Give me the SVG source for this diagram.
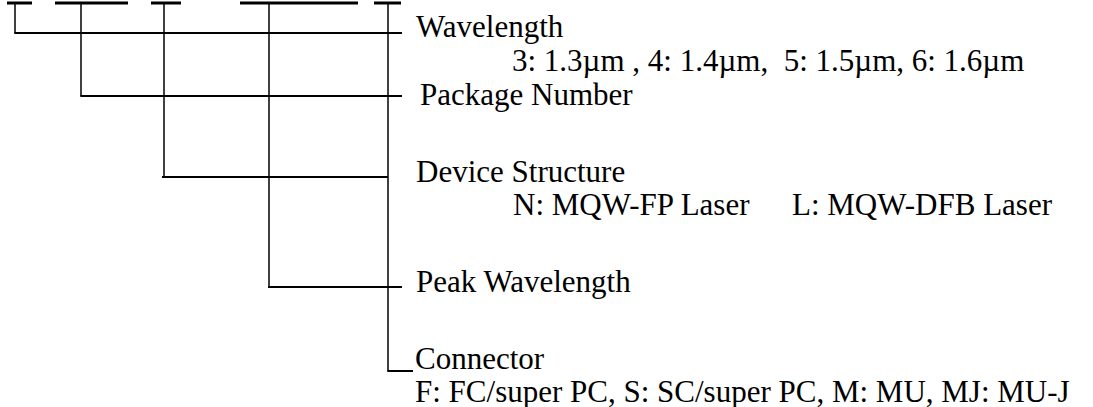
<svg xmlns="http://www.w3.org/2000/svg" width="1093" height="407" viewBox="0 0 1093 407">
<style>
.bar{stroke:#000;stroke-width:3;fill:none}
.v{stroke:#000;stroke-width:1.5;fill:none}
.h{stroke:#000;stroke-width:2;fill:none}
text{font-family:"Liberation Serif","Times New Roman",serif;font-size:31px;fill:#000;white-space:pre}
</style>
<rect width="1093" height="407" fill="#fff"/>
<g id="code-bars">
<line class="bar" x1="7" y1="3" x2="32" y2="3"/>
<line class="bar" x1="55" y1="3" x2="128" y2="3"/>
<line class="bar" x1="151" y1="3" x2="181" y2="3"/>
<line class="bar" x1="240" y1="3" x2="358" y2="3"/>
<line class="bar" x1="374" y1="3" x2="401" y2="3"/>
</g>
<g id="connectors">
<line class="v" x1="15" y1="3" x2="15" y2="33"/>
<line class="v" x1="81" y1="3" x2="81" y2="96"/>
<line class="v" x1="164" y1="3" x2="164" y2="177"/>
<line class="v" x1="269" y1="3" x2="269" y2="287"/>
<line class="v" x1="388" y1="3" x2="388" y2="371"/>
<line class="h" x1="14.3" y1="33" x2="402" y2="33"/>
<line class="h" x1="80.3" y1="96" x2="402" y2="96"/>
<line class="h" x1="162" y1="177" x2="388" y2="177"/>
<line class="h" x1="268" y1="287" x2="402" y2="287"/>
<line class="h" x1="387.3" y1="371" x2="413" y2="371"/>
</g>
<g id="wavelength">
<text x="416" y="37">Wavelength</text>
<text x="512" y="71" xml:space="preserve">3: 1.3µm , 4: 1.4µm,  5: 1.5µm, 6: 1.6µm</text>
</g>
<g id="package-number">
<text x="420" y="105">Package Number</text>
</g>
<g id="device-structure">
<text x="416" y="182">Device Structure</text>
<text x="513" y="215">N: MQW-FP Laser</text>
<text x="792" y="215">L: MQW-DFB Laser</text>
</g>
<g id="peak-wavelength">
<text x="416" y="292">Peak Wavelength</text>
</g>
<g id="connector">
<text x="415" y="369">Connector</text>
<text x="415" y="402">F: FC/super PC, S: SC/super PC, M: MU, MJ: MU-J</text>
</g>
</svg>
